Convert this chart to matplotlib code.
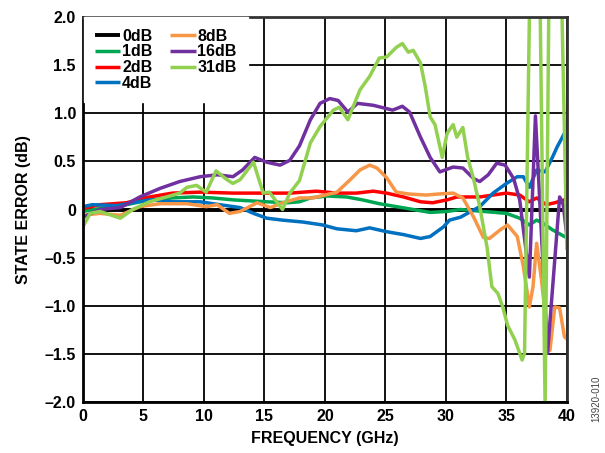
import numpy as np
import matplotlib
matplotlib.use('Agg')
import matplotlib.pyplot as plt

plt.rcParams['font.family'] = ['Liberation Sans', 'DejaVu Sans']
plt.rcParams['font.weight'] = 'bold'

# series: frequency (GHz), state error (dB)
f_0db = [0, 40]
e_0db = [0, 0]

f_1db = [0, 1.4, 3.6, 5.5, 7.4, 9.1, 10.7, 12.4, 15.2, 16.9, 17.9, 18.8, 20.2, 21.8, 23.1,
         24.5, 25.9, 27.3, 28.7, 30.1, 31.2, 33.1, 35.0, 36.1, 36.9, 37.5, 38.0, 38.8, 39.8, 40]
e_1db = [-0.02, 0.01, 0.05, 0.10, 0.12, 0.13, 0.12, 0.10, 0.08, 0.07, 0.08, 0.12, 0.14, 0.13, 0.10,
         0.06, 0.03, 0.0, -0.03, -0.02, 0.0, -0.02, -0.04, -0.09, -0.16, -0.11, -0.14, -0.21, -0.28, -0.29]

f_2db = [0, 1.4, 3.6, 5.5, 7.4, 9.7, 12.4, 15.2, 17.1, 19.3, 21.0, 22.6, 24.0, 25.1, 26.5,
         27.9, 28.9, 30.1, 30.9, 32.8, 35.0, 36.1, 36.9, 37.5, 38.3, 39.0, 39.8, 40]
e_2db = [0.01, 0.05, 0.07, 0.13, 0.17, 0.18, 0.17, 0.17, 0.17, 0.19, 0.17, 0.17, 0.19, 0.17, 0.13,
         0.08, 0.07, 0.10, 0.13, 0.13, 0.17, 0.15, 0.08, 0.12, 0.05, 0.07, 0.10, 0.12]

f_4db = [0, 0.8, 2.8, 4.1, 5.5, 7.4, 9.7, 11.3, 13.0, 14.1, 15.2, 16.5, 18.2, 19.8, 21.0, 22.6,
         23.7, 25.1, 26.5, 27.9, 28.7, 29.8, 30.3, 31.2, 32.8, 33.9, 35.0, 35.9, 36.4, 36.9,
         37.5, 38.2, 38.8, 39.2, 39.8, 40]
e_4db = [0.03, 0.05, 0.04, 0.07, 0.10, 0.08, 0.08, 0.05, 0.02, -0.04, -0.09, -0.11, -0.13, -0.16,
         -0.20, -0.22, -0.19, -0.23, -0.26, -0.30, -0.28, -0.18, -0.11, -0.08, 0.03, 0.17, 0.27,
         0.34, 0.34, 0.23, 0.41, 0.39, 0.54, 0.65, 0.79, 0.81]

f_8db = [0, 1.4, 3.1, 4.7, 6.4, 8.6, 10.2, 11.1, 12.1, 13.0, 14.4, 15.5, 16.5, 17.9, 19.0, 21.0,
         22.1, 22.9, 23.7, 24.3, 25.1, 25.9, 27.0, 28.4, 29.3, 30.6, 31.4, 32.3, 33.1, 33.6, 34.5,
         35.1, 35.9, 36.4, 36.9, 37.2, 37.5, 37.9, 38.3, 38.6, 39.0, 39.4, 39.8, 40]
e_8db = [-0.06, -0.04, -0.06, 0.03, 0.06, 0.06, 0.03, 0.05, -0.04, -0.02, 0.07, 0.02, 0.07, 0.12,
         0.12, 0.18, 0.31, 0.41, 0.46, 0.43, 0.33, 0.18, 0.16, 0.15, 0.16, 0.17, 0.12, -0.08, -0.29,
         -0.30, -0.21, -0.16, -0.28, -0.59, -1.01, -0.80, -0.35, -0.73, -1.18, -1.46, -1.01, -1.02,
         -1.32, -1.34]

f_16db = [0, 1.4, 3.1, 4.7, 6.4, 8.0, 9.7, 11.1, 12.4, 13.2, 14.2, 15.2, 16.3, 17.1, 17.9, 18.8,
          19.6, 20.4, 21.1, 21.9, 22.7, 24.0, 25.6, 26.4, 27.0, 27.9, 28.7, 29.5, 30.6, 31.4, 32.3,
          32.8, 33.5, 34.2, 34.9, 35.6, 36.1, 36.9, 37.4, 38.4, 39.4, 39.7, 40]
e_16db = [-0.08, 0.0, 0.02, 0.13, 0.22, 0.29, 0.34, 0.36, 0.34, 0.41, 0.54, 0.49, 0.46, 0.51, 0.66,
          0.93, 1.10, 1.15, 1.13, 1.01, 1.10, 1.08, 1.03, 1.07, 1.01, 0.75, 0.54, 0.39, 0.44, 0.43,
          0.32, 0.29, 0.36, 0.48, 0.46, 0.32, 0.10, -0.70, 0.97, -1.49, 0.13, 0.05, -0.28]

f_31db = [0, 0.6, 1.4, 3.1, 4.1, 5.5, 6.9, 8.0, 8.6, 9.4, 10.2, 11.0, 11.9, 12.4, 13.0, 14.1, 14.9,
          15.4, 16.5, 17.1, 17.9, 18.8, 19.6, 20.7, 21.2, 21.9, 22.9, 23.7, 24.5, 25.1, 25.9, 26.4,
          26.9, 27.3, 27.9, 28.3, 28.7, 29.1, 29.7, 30.1, 30.6, 30.9, 31.4, 31.8, 32.3, 32.8, 33.4,
          33.8, 34.3, 34.7, 35.1, 35.7, 36.3, 36.5, 36.9, 37.3, 37.8, 38.2, 38.5, 39.0, 39.6, 40]
e_31db = [-0.18, -0.04, -0.02, -0.09, 0.0, 0.08, 0.13, 0.17, 0.23, 0.25, 0.18, 0.40, 0.31, 0.27,
          0.31, 0.49, 0.17, 0.18, 0.0, 0.17, 0.30, 0.69, 0.86, 1.03, 1.06, 0.93, 1.24, 1.38, 1.57,
          1.58, 1.68, 1.72, 1.63, 1.65, 1.52, 1.27, 0.96, 0.88, 0.54, 0.79, 0.88, 0.75, 0.85, 0.54,
          0.31, 0.03, -0.39, -0.80, -0.87, -1.01, -1.20, -1.35, -1.56, -1.49, 2.0, 3.5, 2.0, -2.05,
          2.0, 3.5, 2.0, -0.42]

series = [
    ('0dB', f_0db, e_0db, '#000000'),
    ('1dB', f_1db, e_1db, '#00A651'),
    ('2dB', f_2db, e_2db, '#FF0000'),
    ('4dB', f_4db, e_4db, '#0070C0'),
    ('8dB', f_8db, e_8db, '#F79646'),
    ('16dB', f_16db, e_16db, '#7030A0'),
    ('31dB', f_31db, e_31db, '#92D050'),
]

fig = plt.figure(figsize=(6.05, 4.53), dpi=100)
ax = fig.add_axes([0.137, 0.1115, 0.8, 0.852])

for name, f, e, c in series:
    ax.plot(f, e, color=c, lw=2.8 if name == '0dB' else 2.5, label=name, solid_capstyle='butt')

ax.set_xlim(0, 40)
ax.set_ylim(-2, 2)
xt = np.arange(0, 41, 5)
yt = np.arange(-2, 2.01, 0.5)
ax.set_xticks(xt)
ax.set_yticks(yt)
ax.set_xticklabels([str(int(v)) for v in xt])
ax.set_yticklabels(['0' if abs(v) < 1e-9 else ('%.1f' % v).replace('-', '\u2013') for v in yt])
ax.tick_params(length=0, labelsize=11.5, pad=5)
ax.grid(True, color='black', lw=1.3)
ax.set_axisbelow(True)
for s in ['left', 'bottom']:
    ax.spines[s].set_linewidth(2)
    ax.spines[s].set_color('black')
for s in ['top', 'right']:
    ax.spines[s].set_linewidth(2)
    ax.spines[s].set_color('#333333')

ax.set_xlabel('FREQUENCY (GHz)', fontsize=11.5, fontweight='bold', labelpad=5)
ax.set_ylabel('STATE ERROR (dB)', fontsize=11.5, fontweight='bold', labelpad=10)

leg = ax.legend(loc='upper left', ncol=2, fontsize=11.5, frameon=True, fancybox=False,
                borderaxespad=0.05, handlelength=1.6, handletextpad=0.1, labelspacing=0.05,
                columnspacing=1.1, borderpad=0.7)
leg.get_frame().set_edgecolor('white')
leg.get_frame().set_alpha(1)
for t in leg.get_texts():
    t.set_fontweight('bold')

fig.text(0.985, 0.12, '13920-010', rotation=90, fontsize=7, color='#444444',
         fontweight='normal', ha='center', va='center')

fig.savefig('out.png', dpi=100)
